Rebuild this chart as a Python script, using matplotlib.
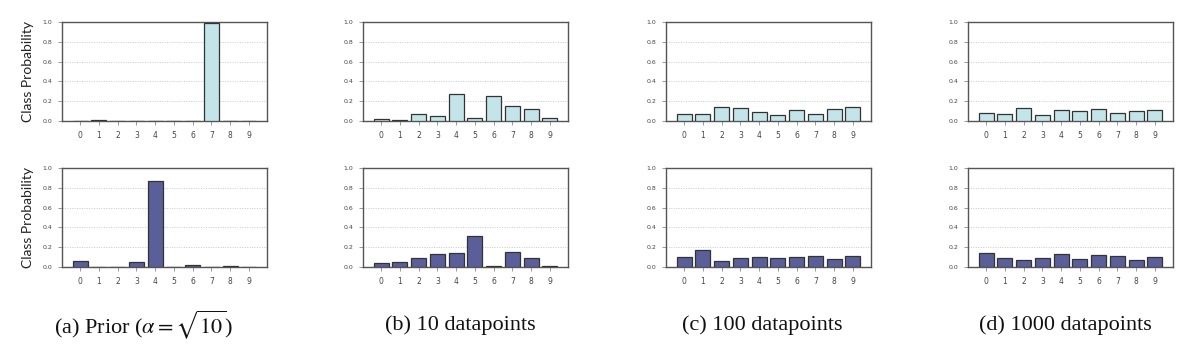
import matplotlib
matplotlib.use("Agg")
import matplotlib.pyplot as plt
import numpy as np

classes = [0, 1, 2, 3, 4, 5, 6, 7, 8, 9]
yticks = [0.0, 0.2, 0.4, 0.6, 0.8, 1.0]

# top row (light) values
prior_top = [0.0, 0.01, 0.0, 0.0, 0.0, 0.0, 0.0, 0.99, 0.0, 0.0]
d10_top = [0.02, 0.007, 0.067, 0.05, 0.276, 0.03, 0.25, 0.148, 0.12, 0.03]
d100_top = [0.074, 0.07, 0.138, 0.128, 0.094, 0.057, 0.108, 0.067, 0.125, 0.138]
d1000_top = [0.084, 0.067, 0.135, 0.064, 0.114, 0.098, 0.125, 0.084, 0.10, 0.114]

# bottom row (dark) values
prior_bot = [0.06, 0.0, 0.0, 0.05, 0.866, 0.0, 0.02, 0.0, 0.007, 0.0]
d10_bot = [0.04, 0.047, 0.087, 0.13, 0.14, 0.315, 0.01, 0.148, 0.087, 0.013]
d100_bot = [0.10, 0.168, 0.06, 0.09, 0.10, 0.09, 0.10, 0.114, 0.08, 0.107]
d1000_bot = [0.14, 0.094, 0.074, 0.087, 0.128, 0.08, 0.12, 0.11, 0.074, 0.10]

captions = [r"(a) Prior ($\alpha = \sqrt{10}$)", "(b) 10 datapoints",
            "(c) 100 datapoints", "(d) 1000 datapoints"]

top_data = [prior_top, d10_top, d100_top, d1000_top]
bot_data = [prior_bot, d10_bot, d100_bot, d1000_bot]

plt.rcParams['mathtext.fontset'] = 'stix'

W, H = 1200, 352
fig = plt.figure(figsize=(12, 3.52), dpi=100)

lefts = [62, 363, 666, 968]
width_px = 205
rows = [(22, 121), (168, 267)]
light = "#c3e4e8"
dark = "#5b5f99"
edge = "#333333"
spine_c = "#555555"

def make_ax(lp, top, bot):
    return fig.add_axes([lp / W, 1 - bot / H, width_px / W, (bot - top) / H])

for c in range(4):
    for r, (top, bot) in enumerate(rows):
        ax = make_ax(lefts[c], top, bot)
        vals = top_data[c] if r == 0 else bot_data[c]
        col = light if r == 0 else dark
        ax.bar(classes, vals, width=0.8, color=col, edgecolor=edge, linewidth=0.9, zorder=3)
        ax.set_xlim(-0.97, 9.97)
        ax.set_ylim(0, 1.0)
        ax.set_yticks(yticks)
        ax.set_yticklabels([f"{v:.1f}" for v in yticks])
        ax.set_xticks(classes)
        ax.set_xticklabels([str(k) for k in classes])
        ax.yaxis.grid(True, linestyle=(0, (1, 1.5)), color="#c8c8c8", linewidth=0.7, zorder=0)
        ax.set_axisbelow(True)
        for s in ax.spines.values():
            s.set_color(spine_c)
            s.set_linewidth(1.0)
        ax.tick_params(axis='y', direction='out', length=3, width=0.6, color="#888888",
                       labelsize=4.5, labelcolor="#444444", pad=4)
        ax.tick_params(axis='x', direction='out', length=3, width=0.6, color="#888888",
                       labelsize=5.5, labelcolor="#444444", pad=4)
        if c == 0:
            ax.set_ylabel("Class Probability", family="Lato", fontsize=10, labelpad=6, color="#222222")

cap_x = [143, 460, 762, 1065]
for cx, txt in zip(cap_x, captions):
    fig.text(cx / W, 1 - 325 / H, txt, ha='center', va='center',
             family='Liberation Serif', fontsize=16, color="#111111")

fig.savefig("out.png", dpi=100)
